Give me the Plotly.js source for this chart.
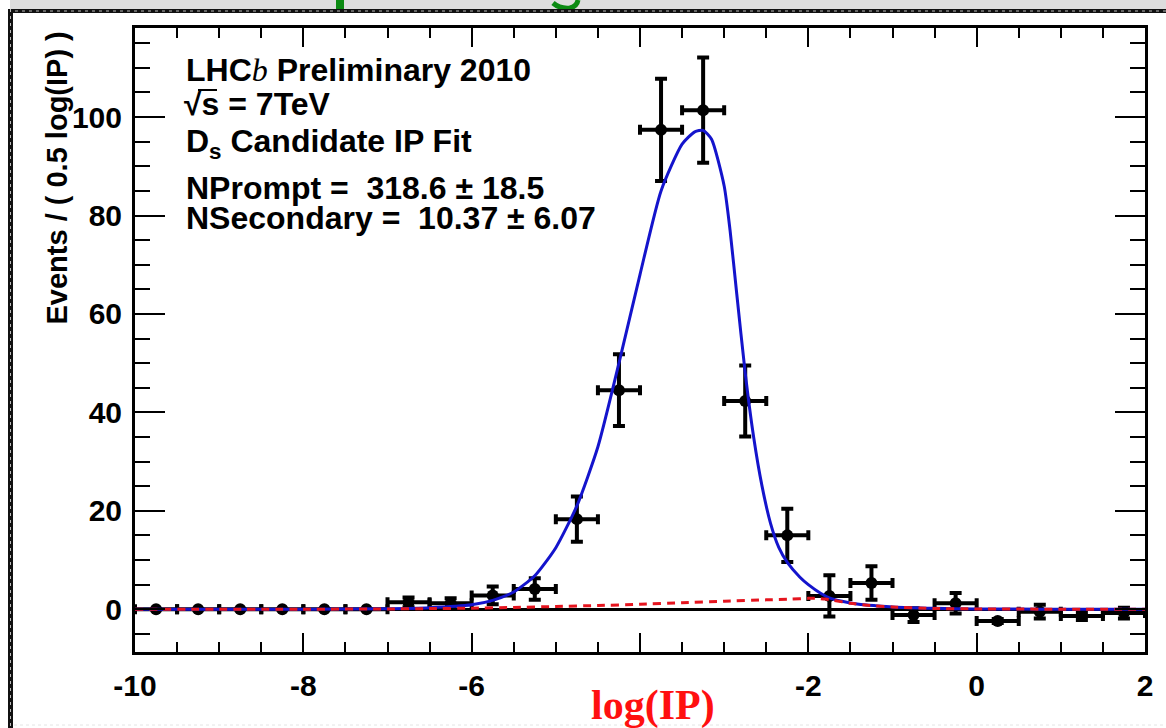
<!DOCTYPE html>
<html>
<head>
<meta charset="utf-8">
<script src="https://cdn.plot.ly/plotly-3.0.1.min.js"></script>
<style>
  html, body { margin: 0; padding: 0; background: #ffffff; }
  #plot { width: 1166px; height: 728px; }
</style>
</head>
<body>
<div id="plot"></div>
<script>
// Binned log(IP) distribution of D_s candidates (bin width 0.5)
const binCenters = [-9.75, -9.25, -8.75, -8.25, -7.75, -7.25, -6.75, -6.25, -5.75, -5.25,
                    -4.75, -4.25, -3.75, -3.25, -2.75, -2.25, -1.75, -1.25, -0.75, -0.25,
                    0.25, 0.75, 1.25, 1.75];
const events    = [0, 0, 0, 0, 0, 0, 1.4, 1.2, 2.8, 4.1,
                   18.3, 44.5, 97.4, 101.4, 42.3, 15.0, 2.7, 5.3, -1.2, 1.2,
                   -2.4, -0.5, -1.4, -0.8];
const eventErr  = [0, 0, 0, 0, 0, 0, 1.0, 1.0, 1.8, 2.2,
                   4.6, 7.3, 10.4, 10.7, 7.2, 5.4, 4.2, 3.4, 1.4, 2.1,
                   0.4, 1.4, 0.8, 1.1];

// Total fit (prompt + secondary)
const fitX   = [-10, -9, -8, -7, -6.5, -6, -5.75, -5.5, -5.25, -5, -4.75, -4.5, -4.25, -4,
                -3.75, -3.5, -3.35, -3.25, -3.15, -3.0, -2.93, -2.85, -2.75, -2.65, -2.55,
                -2.45, -2.35, -2.25, -2.1, -2.0, -1.85, -1.75, -1.6, -1.4, -1.2, -1.0,
                -0.5, 0, 0.5, 1, 1.5, 2];
const fitTotal = [0, 0, 0, 0.1, 0.3, 0.9, 1.8, 3.5, 6.8, 12.5, 21, 33, 50, 68,
                  85, 94.5, 97, 97.3, 95.5, 86, 77, 64, 48, 35, 25,
                  17.5, 12.5, 9.5, 6.5, 5.0, 3.2, 2.3, 1.6, 1.0, 0.7, 0.45,
                  0.18, 0.05, 0.02, 0, 0, 0];

// Secondary component
const secX = [-10, -8, -7, -6.5, -6, -5.5, -5, -4.5, -4, -3.5, -3, -2.5, -2.2, -2.0, -1.9,
              -1.8, -1.7, -1.5, -1.3, -1.0, -0.5, 0, 1, 2];
const secY = [0, 0, 0.05, 0.12, 0.2, 0.35, 0.55, 0.75, 1.0, 1.3, 1.6, 1.9, 2.05, 2.2, 2.2,
              2.05, 1.8, 1.2, 0.8, 0.45, 0.15, 0.05, 0, 0];

const xTickVals = [-10, -8, -6, -4, -2, 0, 2];
const xTickText = ['-10', '-8', '-6', '-4', '-2', '0', '2'];
const yTickVals = [0, 20, 40, 60, 80, 100];
const yTickText = ['0', '20', '40', '60', '80', '100'];

// page geometry helpers (pixel -> paper fraction)
const M = { l: 135, r: 21, t: 28, b: 76 };
const W = 1166, H = 728;
const PW = W - M.l - M.r, PH = H - M.t - M.b;
const px = v => (v - M.l) / PW;
const py = v => (H - M.b - v) / PH;

const tickFont = { family: 'Liberation Sans, Arial, sans-serif', size: 30, color: '#000', weight: 'bold' };
const boxFont  = { family: 'Liberation Sans, Arial, sans-serif', size: 32, color: '#000', weight: 'bold' };

const traces = [
  {
    x: binCenters, y: events, type: 'scatter', mode: 'markers',
    marker: { color: '#000', size: 12, symbol: 'circle' },
    error_y: { type: 'data', array: eventErr, visible: true, color: '#000', thickness: 4, width: 6 },
    error_x: { type: 'constant', value: 0.25, visible: true, color: '#000', thickness: 4, width: 5 },
    showlegend: false
  },
  {
    x: fitX, y: fitTotal, type: 'scatter', mode: 'lines',
    line: { color: '#1414cc', width: 3, shape: 'spline', smoothing: 0.6 },
    hoverinfo: 'skip', showlegend: false
  },
  {
    x: secX, y: secY, type: 'scatter', mode: 'lines',
    line: { color: '#e5141e', width: 3, dash: '8px,6px', shape: 'spline', smoothing: 0.6 },
    hoverinfo: 'skip', showlegend: false
  }
];

// decorative slide frame
const shapes = [
  { type: 'rect', xref: 'paper', yref: 'paper', layer: 'below',
    x0: px(10), x1: px(W), y0: py(0), y1: py(10), fillcolor: '#dddddd', line: { width: 0 } },
  // partial green heading glyphs above the frame
  { type: 'rect', xref: 'paper', yref: 'paper', layer: 'below',
    x0: px(336), x1: px(344), y0: py(0), y1: py(9), fillcolor: '#0b8a12', line: { width: 0 } },
  { type: 'path', xref: 'paper', yref: 'paper', layer: 'below',
    path: `M ${px(553)} ${py(3)} Q ${px(560)} ${py(9)} ${px(570)} ${py(8)} Q ${px(577)} ${py(6)} ${px(578)} ${py(0)}`,
    line: { color: '#0b8a12', width: 5 } },
  { type: 'line', xref: 'paper', yref: 'paper',
    x0: px(8), x1: px(W), y0: py(11), y1: py(11), line: { color: '#111', width: 4 } },
  { type: 'line', xref: 'paper', yref: 'paper',
    x0: px(8), x1: px(W), y0: py(11), y1: py(11), line: { color: '#bbbbbb', width: 1, dash: '3px,4px' } },
  { type: 'line', xref: 'paper', yref: 'paper',
    x0: px(10.5), x1: px(10.5), y0: py(9), y1: py(H), line: { color: '#111', width: 5 } },
  { type: 'line', xref: 'paper', yref: 'paper',
    x0: px(10.5), x1: px(10.5), y0: py(9), y1: py(H), line: { color: '#bbbbbb', width: 1, dash: '3px,4px' } },
  { type: 'line', xref: 'paper', yref: 'paper',
    x0: px(14), x1: px(W), y0: py(725), y1: py(725), line: { color: '#e4e4e4', width: 1, dash: '3px,3px' } },
  // white box behind the axis caption (it hides most of the "-4" label)
  { type: 'rect', xref: 'paper', yref: 'paper', layer: 'above',
    x0: px(586), x1: px(720), y0: py(670), y1: py(724), fillcolor: '#ffffff', line: { width: 0 } },
  // radical bar over s
  { type: 'line', xref: 'paper', yref: 'paper',
    x0: px(198), x1: px(217), y0: py(90), y1: py(90), line: { color: '#000', width: 2 } }
];

const textX = px(184);
const annotations = [
  { text: 'LHC<span style="font-family:\'Liberation Serif\',serif;font-style:italic;font-weight:normal">b</span> Preliminary 2010',
    x: textX, y: py(70), xanchor: 'left', yanchor: 'middle', xref: 'paper', yref: 'paper',
    showarrow: false, font: boxFont },
  { text: '√s = 7TeV',
    x: textX - 0.002, y: py(104), xanchor: 'left', yanchor: 'middle', xref: 'paper', yref: 'paper',
    showarrow: false, font: boxFont },
  { text: 'D<sub>s</sub> Candidate IP Fit',
    x: textX, y: py(143), xanchor: 'left', yanchor: 'middle', xref: 'paper', yref: 'paper',
    showarrow: false, font: boxFont },
  { text: 'NPrompt =  318.6 ± 18.5',
    x: textX, y: py(188), xanchor: 'left', yanchor: 'middle', xref: 'paper', yref: 'paper',
    showarrow: false, font: boxFont },
  { text: 'NSecondary =  10.37 ± 6.07',
    x: textX, y: py(218), xanchor: 'left', yanchor: 'middle', xref: 'paper', yref: 'paper',
    showarrow: false, font: boxFont },
  { text: 'Events / ( 0.5 log(IP) )', textangle: -90,
    x: px(56), y: py(30), xanchor: 'center', yanchor: 'top', xref: 'paper', yref: 'paper',
    showarrow: false, font: Object.assign({}, tickFont, { size: 29 }) },
  { text: 'log(IP)',
    x: px(653), y: py(705), xanchor: 'center', yanchor: 'middle', xref: 'paper', yref: 'paper',
    showarrow: false, font: { family: 'Liberation Serif, Times New Roman, serif', size: 42, color: '#ff1010', weight: 'bold' } }
];

const layout = {
  width: W, height: H,
  margin: M,
  paper_bgcolor: '#ffffff', plot_bgcolor: '#ffffff',
  showlegend: false,
  xaxis: {
    range: [-10, 2], tickmode: 'array', tickvals: xTickVals, ticktext: xTickText,
    ticks: 'inside', ticklen: 19, tickwidth: 2, tickcolor: '#000',
    minor: { dtick: 0.5, ticks: 'inside', ticklen: 10, tickwidth: 2, tickcolor: '#000' },
    showline: true, linecolor: '#000', linewidth: 3, mirror: 'allticks',
    showgrid: false, zeroline: false, tickfont: tickFont, ticklabelstandoff: 5
  },
  yaxis: {
    range: [-8.7, 118.1], tickmode: 'array', tickvals: yTickVals, ticktext: yTickText,
    ticks: 'inside', ticklen: 30, tickwidth: 2, tickcolor: '#000',
    minor: { dtick: 5, ticks: 'inside', ticklen: 15, tickwidth: 2, tickcolor: '#000' },
    showline: true, linecolor: '#000', linewidth: 3, mirror: 'allticks',
    showgrid: false, zeroline: true, zerolinecolor: '#000', zerolinewidth: 3,
    tickfont: tickFont, ticklabelstandoff: 4
  },
  shapes: shapes,
  annotations: annotations
};

Plotly.newPlot('plot', traces, layout, { staticPlot: true, displayModeBar: false });
</script>
</body>
</html>
